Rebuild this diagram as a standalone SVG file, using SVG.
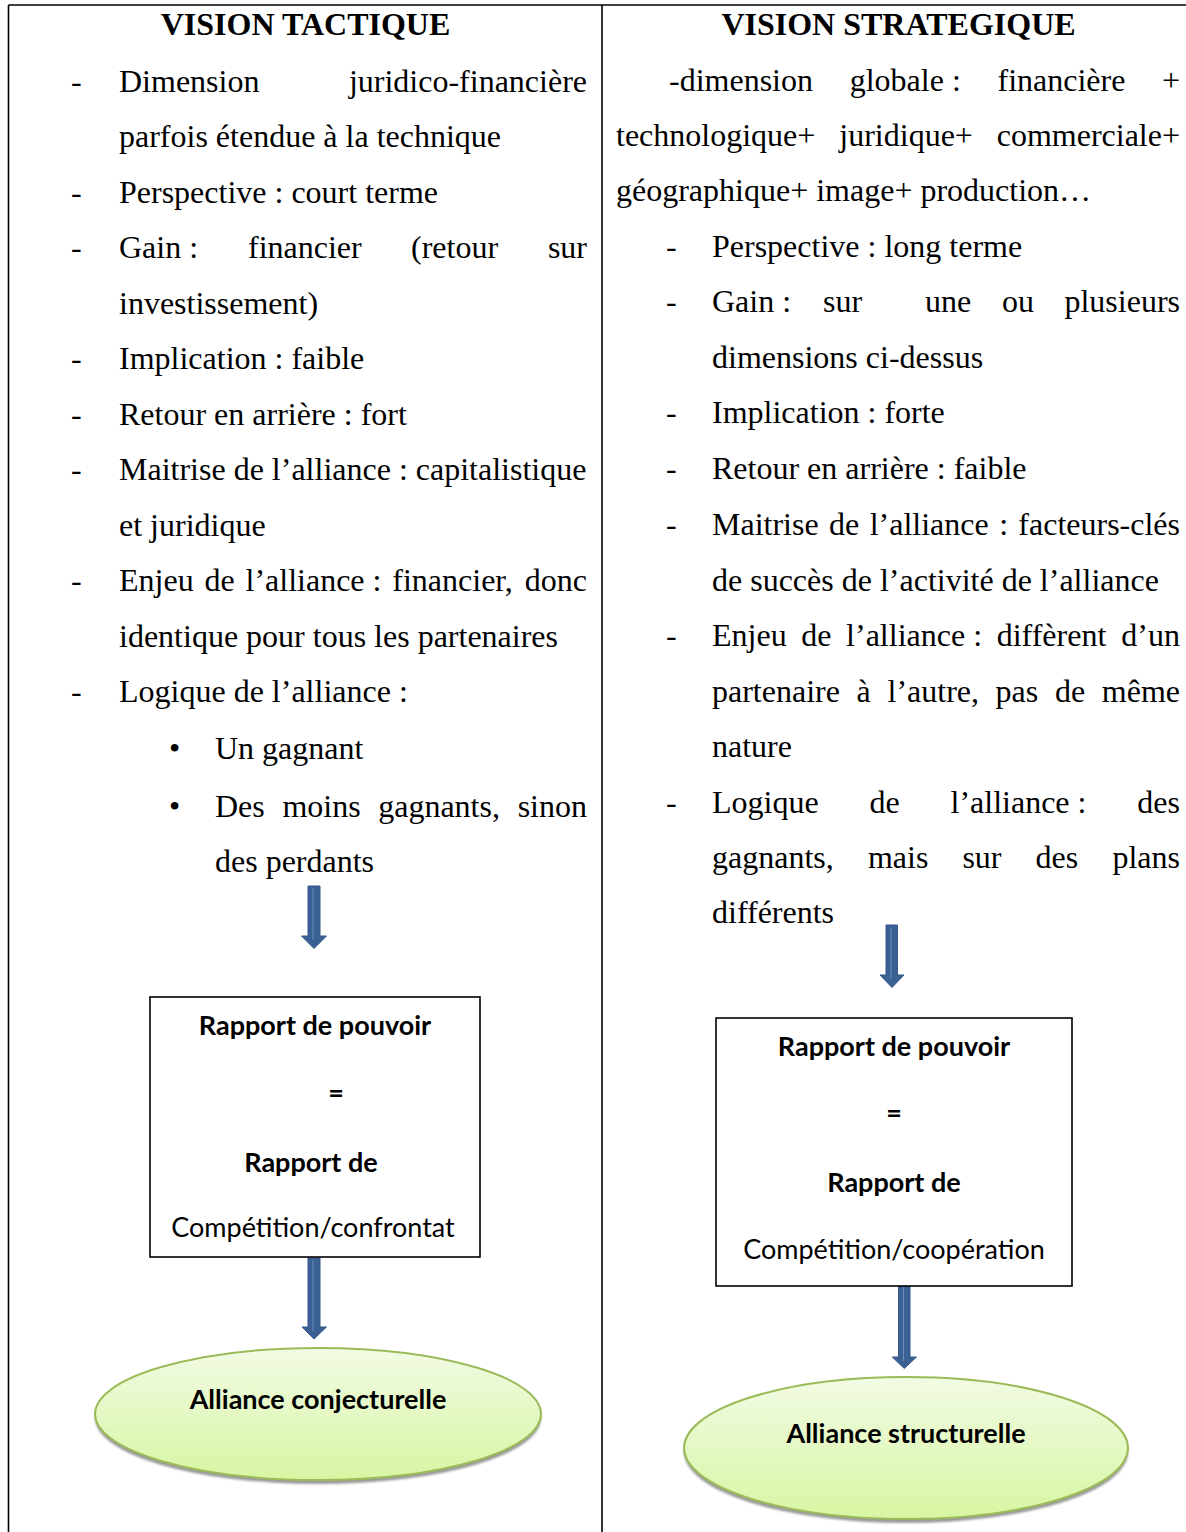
<svg xmlns="http://www.w3.org/2000/svg" width="1186" height="1532" viewBox="0 0 1186 1532">
<defs>
<style>
.t{font-family:"Liberation Serif","Times New Roman",serif;font-size:32px;fill:#000}
.h{font-family:"Liberation Serif","Times New Roman",serif;font-size:32px;font-weight:bold;fill:#000;text-anchor:middle}
.e{text-anchor:end}
.bb{font-family:Lato,"Liberation Sans",sans-serif;font-size:27px;font-weight:bold;fill:#000;text-anchor:middle}
.br{font-family:Lato,"Liberation Sans",sans-serif;font-size:27px;fill:#000;text-anchor:middle}
.rule{stroke:#000;stroke-width:1.6;fill:none}
.box{fill:#fff;stroke:#000;stroke-width:1.6}
.arrow{fill:#3b6094;stroke:#34578a;stroke-width:1}
.hl{stroke:#6a8cbd;stroke-width:1}
.ell{fill:url(#g);stroke:#9bbb59;stroke-width:2}
.sh{fill:#9a9a9a;filter:url(#blur)}
</style>
<linearGradient id="g" x1="0" y1="0" x2="0" y2="1">
<stop offset="0" stop-color="#f2fbe4"/>
<stop offset="1" stop-color="#d7f6a3"/>
</linearGradient>
<filter id="blur" x="-10%" y="-10%" width="120%" height="130%"><feGaussianBlur stdDeviation="1.2"/></filter>
</defs>

<g id="table">
<line class="rule" x1="8.5" y1="5" x2="1186" y2="5"/>
<line class="rule" x1="8.5" y1="5" x2="8.5" y2="1532"/>
<line class="rule" x1="602" y1="5" x2="602" y2="1532"/>
</g>

<g id="col-tactique">
<text class="h" x="305.5" y="35">VISION TACTIQUE</text>
<text class="t" x="71" y="91.5">-</text>
<text class="t" x="119" y="91.5">Dimension</text>
<text class="t e" x="587" y="91.5">juridico-financière</text>
<text class="t" x="119" y="147">parfois étendue à la technique</text>
<text class="t" x="71" y="202.5">-</text>
<text class="t" x="119" y="202.5">Perspective : court terme</text>
<text class="t" x="71" y="258">-</text>
<text class="t" y="258"><tspan x="119">Gain :</tspan><tspan x="248">financier</tspan><tspan x="411">(retour</tspan></text>
<text class="t e" x="587" y="258">sur</text>
<text class="t" x="119" y="313.5">investissement)</text>
<text class="t" x="71" y="369">-</text>
<text class="t" x="119" y="369">Implication : faible</text>
<text class="t" x="71" y="424.5">-</text>
<text class="t" x="119" y="424.5">Retour en arrière : fort</text>
<text class="t" x="71" y="480">-</text>
<text class="t" x="119" y="480">Maitrise de l’alliance : capitalistique</text>
<text class="t" x="119" y="535.5">et juridique</text>
<text class="t" x="71" y="591">-</text>
<text class="t" y="591"><tspan x="119">Enjeu</tspan><tspan x="204.5">de</tspan><tspan x="245.5">l’alliance :</tspan><tspan x="392.3">financier,</tspan></text>
<text class="t e" x="587" y="591">donc</text>
<text class="t" x="119" y="646.5">identique pour tous les partenaires</text>
<text class="t" x="71" y="702">-</text>
<text class="t" x="119" y="702">Logique de l’alliance :</text>
<text class="t" x="169" y="759">•</text>
<text class="t" x="215" y="759">Un gagnant</text>
<text class="t" x="169" y="817">•</text>
<text class="t" y="817"><tspan x="215">Des</tspan><tspan x="282.4">moins</tspan><tspan x="378.2">gagnants,</tspan></text>
<text class="t e" x="587" y="817">sinon</text>
<text class="t" x="215" y="872">des perdants</text>
</g>

<g id="col-strategique">
<text class="h" x="898.5" y="35">VISION STRATEGIQUE</text>
<text class="t" y="90.5"><tspan x="669">-dimension</tspan><tspan x="849.7">globale :</tspan><tspan x="997.5">financière</tspan></text>
<text class="t e" x="1180" y="90.5">+</text>
<text class="t" y="145.5"><tspan x="616">technologique+</tspan><tspan x="839.3">juridique+</tspan></text>
<text class="t e" x="1180" y="145.5">commerciale+</text>
<text class="t" x="616" y="200.5">géographique+ image+ production…</text>
<text class="t" x="666" y="256.5">-</text>
<text class="t" x="712" y="256.5">Perspective : long terme</text>
<text class="t" x="666" y="312">-</text>
<text class="t" y="312"><tspan x="712">Gain :</tspan><tspan x="823">sur</tspan><tspan x="925">une</tspan><tspan x="1002">ou</tspan></text>
<text class="t e" x="1180" y="312">plusieurs</text>
<text class="t" x="712" y="367.5">dimensions ci-dessus</text>
<text class="t" x="666" y="423">-</text>
<text class="t" x="712" y="423">Implication : forte</text>
<text class="t" x="666" y="479">-</text>
<text class="t" x="712" y="479">Retour en arrière : faible</text>
<text class="t" x="666" y="535">-</text>
<text class="t" y="535"><tspan x="712">Maitrise</tspan><tspan x="829.1">de</tspan><tspan x="869.7">l’alliance</tspan><tspan x="999.2">:</tspan></text>
<text class="t e" x="1180" y="535">facteurs-clés</text>
<text class="t" x="712" y="590.5">de succès de l’activité de l’alliance</text>
<text class="t" x="666" y="646">-</text>
<text class="t" y="646"><tspan x="712">Enjeu</tspan><tspan x="801.3">de</tspan><tspan x="846.1">l’alliance :</tspan><tspan x="996.7">diffèrent</tspan></text>
<text class="t e" x="1180" y="646">d’un</text>
<text class="t" y="701.5"><tspan x="712">partenaire</tspan><tspan x="856.6">à</tspan><tspan x="887.5">l’autre,</tspan><tspan x="995.6">pas</tspan><tspan x="1055">de</tspan></text>
<text class="t e" x="1180" y="701.5">même</text>
<text class="t" x="712" y="756.5">nature</text>
<text class="t" x="666" y="812.5">-</text>
<text class="t" y="812.5"><tspan x="712">Logique</tspan><tspan x="869.5">de</tspan><tspan x="950.5">l’alliance :</tspan></text>
<text class="t e" x="1180" y="812.5">des</text>
<text class="t" y="868"><tspan x="712">gagnants,</tspan><tspan x="867.9">mais</tspan><tspan x="962.4">sur</tspan><tspan x="1035.6">des</tspan></text>
<text class="t e" x="1180" y="868">plans</text>
<text class="t" x="712" y="922.5">différents</text>
</g>

<g id="connectors">
<path class="arrow" d="M308,886 H320 V936 H326.5 L314,948.5 L301.5,936 H308 Z"/>
<line class="hl" x1="313" y1="888" x2="313" y2="940"/>
<path class="arrow" d="M308,1258 H320 V1327 H326.5 L314,1339 L302,1327 H308 Z"/>
<line class="hl" x1="313" y1="1260" x2="313" y2="1331"/>
<path class="arrow" d="M886,925 H897.5 V975 H904 L892,987.5 L880,975 H886 Z"/>
<line class="hl" x1="891" y1="927" x2="891" y2="979"/>
<path class="arrow" d="M898.5,1285 H910 V1357 H916.5 L904.3,1368.5 L892.3,1357 H898.5 Z"/>
<line class="hl" x1="903.5" y1="1287" x2="903.5" y2="1361"/>
</g>

<g id="box-tactique">
<rect class="box" x="150" y="997" width="330" height="260"/>
<text class="bb" x="315" y="1035">Rapport de pouvoir</text>
<text class="bb" x="336" y="1102">=</text>
<text class="bb" x="311" y="1172">Rapport de</text>
<text class="br" x="313" y="1237">Compétition/confrontat</text>
</g>

<g id="box-strategique">
<rect class="box" x="716" y="1018" width="356" height="268"/>
<text class="bb" x="894" y="1056">Rapport de pouvoir</text>
<text class="bb" x="894" y="1122">=</text>
<text class="bb" x="894" y="1192">Rapport de</text>
<text class="br" x="894" y="1259">Compétition/coopération</text>
</g>

<g id="ellipse-conjecturelle">
<ellipse class="sh" cx="318" cy="1418" rx="223" ry="66"/>
<ellipse class="ell" cx="318" cy="1414" rx="223" ry="66"/>
<text class="bb" x="318" y="1409">Alliance conjecturelle</text>
</g>

<g id="ellipse-structurelle">
<ellipse class="sh" cx="906" cy="1452" rx="222" ry="71"/>
<ellipse class="ell" cx="906" cy="1448" rx="222" ry="71"/>
<text class="bb" x="906" y="1443">Alliance structurelle</text>
</g>
</svg>
